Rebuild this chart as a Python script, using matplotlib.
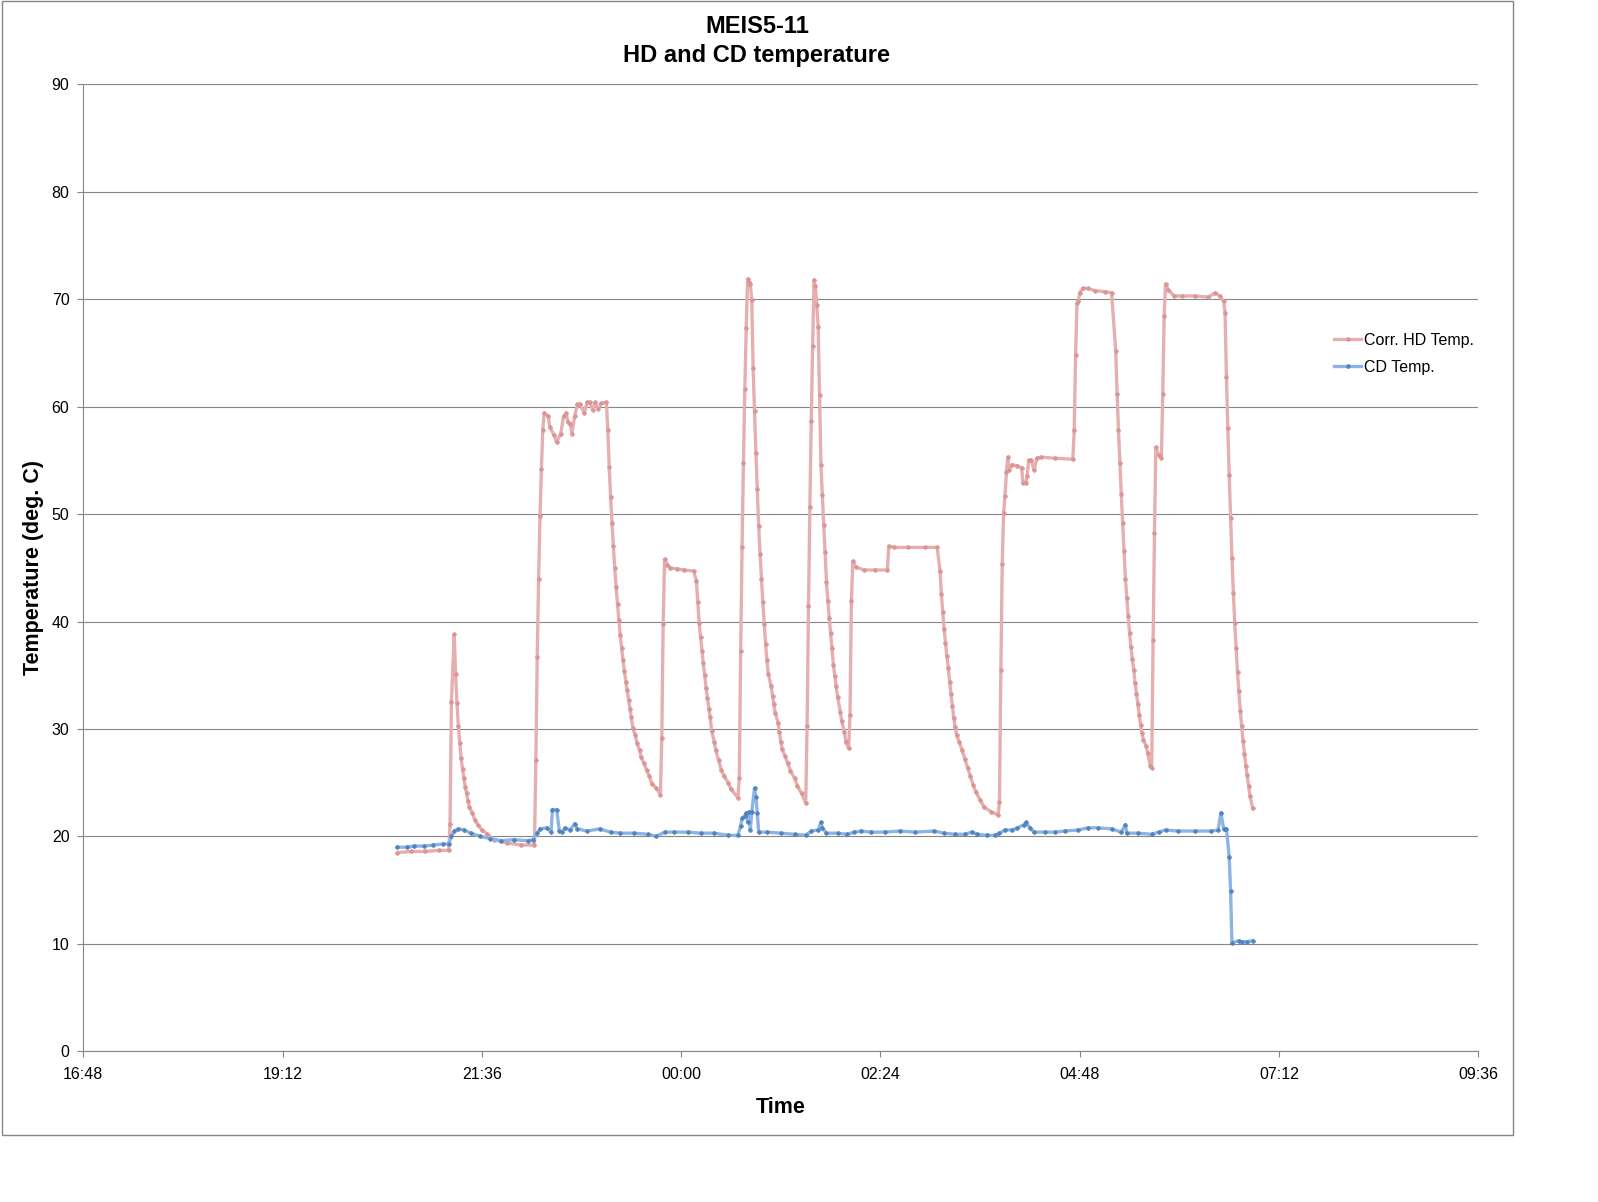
import matplotlib
matplotlib.use('Agg')
import matplotlib.pyplot as plt
from matplotlib.patches import Rectangle

# Corr. HD Temp. (clock time, deg C)
hd_times = ['20:35', '20:45', '20:55', '21:05', '21:12', '21:13', '21:14', '21:16', '21:17', '21:18',
            '21:19', '21:20', '21:21', '21:22', '21:23', '21:24', '21:25', '21:26', '21:27', '21:29',
            '21:31', '21:33', '21:36', '21:40', '21:45', '21:54', '22:04', '22:14', '22:15', '22:16',
            '22:17', '22:18', '22:19', '22:20', '22:21', '22:24', '22:25', '22:28', '22:30', '22:33',
            '22:35', '22:37', '22:38', '22:40', '22:41', '22:43', '22:45', '22:47', '22:50', '22:52',
            '22:54', '22:56', '22:58', '23:00', '23:02', '23:06', '23:07', '23:08', '23:09', '23:10',
            '23:11', '23:12', '23:13', '23:14', '23:15', '23:16', '23:17', '23:18', '23:19', '23:20',
            '23:21', '23:22', '23:23', '23:24', '23:25', '23:27', '23:28', '23:30', '23:31', '23:33',
            '23:35', '23:37', '23:39', '23:42', '23:45', '23:46', '23:47', '23:48', '23:50', '23:52',
            '23:57', '00:02', '00:09', '00:11', '00:12', '00:13', '00:14', '00:15', '00:16', '00:17',
            '00:18', '00:19', '00:20', '00:21', '00:22', '00:24', '00:25', '00:27', '00:29', '00:31',
            '00:34', '00:36', '00:41', '00:42', '00:43', '00:44', '00:45', '00:46', '00:47', '00:48',
            '00:49', '00:50', '00:51', '00:52', '00:53', '00:54', '00:55', '00:56', '00:57', '00:58',
            '00:59', '01:00', '01:01', '01:02', '01:03', '01:05', '01:06', '01:07', '01:08', '01:10',
            '01:11', '01:12', '01:13', '01:15', '01:17', '01:19', '01:22', '01:24', '01:27', '01:30',
            '01:31', '01:32', '01:33', '01:34', '01:35', '01:36', '01:37', '01:38', '01:39', '01:40',
            '01:41', '01:42', '01:43', '01:44', '01:45', '01:46', '01:47', '01:48', '01:49', '01:50',
            '01:51', '01:52', '01:53', '01:55', '01:56', '01:58', '01:59', '02:01', '02:02', '02:03',
            '02:04', '02:06', '02:12', '02:20', '02:29', '02:30', '02:34', '02:44', '02:56', '03:05',
            '03:07', '03:08', '03:09', '03:10', '03:11', '03:12', '03:13', '03:14', '03:15', '03:16',
            '03:17', '03:18', '03:19', '03:21', '03:23', '03:25', '03:27', '03:29', '03:31', '03:33',
            '03:36', '03:39', '03:44', '03:49', '03:50', '03:51', '03:52', '03:53', '03:54', '03:55',
            '03:56', '03:57', '03:59', '04:03', '04:06', '04:07', '04:09', '04:10', '04:11', '04:13',
            '04:15', '04:17', '04:20', '04:30', '04:43', '04:44', '04:45', '04:46', '04:47', '04:48',
            '04:50', '04:54', '04:59', '05:06', '05:11', '05:14', '05:15', '05:16', '05:17', '05:18',
            '05:19', '05:20', '05:21', '05:22', '05:23', '05:24', '05:25', '05:26', '05:27', '05:28',
            '05:29', '05:30', '05:31', '05:32', '05:33', '05:34', '05:36', '05:37', '05:39', '05:40',
            '05:41', '05:42', '05:43', '05:45', '05:47', '05:48', '05:49', '05:50', '05:52', '05:56',
            '06:02', '06:11', '06:21', '06:26', '06:29', '06:32', '06:33', '06:34', '06:35', '06:36',
            '06:37', '06:38', '06:39', '06:40', '06:41', '06:42', '06:43', '06:44', '06:45', '06:46',
            '06:47', '06:48', '06:49', '06:50', '06:51', '06:53']
hd_values = [18.5, 18.6, 18.6, 18.7, 18.7, 21.2, 32.5, 38.8, 35.1, 32.4,
             30.3, 28.7, 27.3, 26.3, 25.4, 24.6, 24.0, 23.3, 22.7, 22.2,
             21.5, 21.1, 20.6, 20.2, 19.7, 19.4, 19.2, 19.2, 27.1, 36.7,
             44.0, 49.8, 54.2, 57.8, 59.4, 59.1, 58.1, 57.4, 56.7, 57.5,
             59.1, 59.4, 58.6, 58.4, 57.5, 59.1, 60.2, 60.2, 59.4, 60.4,
             60.4, 59.7, 60.4, 59.8, 60.3, 60.4, 57.8, 54.4, 51.6, 49.2,
             47.0, 45.0, 43.2, 41.6, 40.1, 38.7, 37.5, 36.4, 35.4, 34.4,
             33.6, 32.7, 31.9, 31.1, 30.1, 29.4, 28.7, 28.0, 27.4, 26.8,
             26.2, 25.6, 24.9, 24.5, 23.9, 29.2, 39.8, 45.8, 45.3, 45.0,
             44.9, 44.8, 44.7, 43.8, 41.8, 39.9, 38.6, 37.3, 36.1, 35.0,
             33.8, 32.9, 31.9, 31.1, 29.8, 28.8, 28.0, 27.1, 26.2, 25.6,
             25.0, 24.4, 23.6, 25.4, 37.3, 46.9, 54.8, 61.6, 67.3, 71.9,
             71.6, 71.4, 69.9, 63.6, 59.6, 55.7, 52.3, 48.9, 46.3, 44.0,
             41.8, 39.8, 37.9, 36.4, 35.1, 34.0, 33.1, 32.3, 31.5, 30.6,
             29.7, 28.8, 28.1, 27.5, 26.8, 26.1, 25.4, 24.7, 24.0, 23.1,
             30.3, 41.4, 50.7, 58.7, 65.6, 71.8, 71.2, 69.5, 67.4, 61.1,
             54.6, 51.8, 49.0, 46.5, 43.7, 41.9, 40.3, 38.9, 37.5, 36.0,
             34.9, 34.0, 33.0, 31.6, 30.7, 29.7, 28.8, 28.2, 31.3, 41.9,
             45.6, 45.1, 44.8, 44.8, 44.8, 47.0, 46.9, 46.9, 46.9, 46.9,
             44.7, 42.6, 40.9, 39.3, 38.0, 36.8, 35.7, 34.4, 33.3, 32.1,
             31.0, 30.2, 29.4, 28.8, 28.0, 27.2, 26.4, 25.6, 24.8, 24.1,
             23.4, 22.7, 22.3, 22.0, 23.2, 35.5, 45.4, 50.1, 51.7, 53.9,
             55.3, 54.1, 54.6, 54.5, 54.3, 52.9, 52.9, 53.5, 55.0, 55.0,
             54.1, 55.2, 55.3, 55.2, 55.1, 57.8, 64.8, 69.6, 69.8, 70.6,
             71.0, 71.0, 70.8, 70.7, 70.6, 65.2, 61.2, 57.8, 54.8, 51.9,
             49.2, 46.6, 44.0, 42.2, 40.5, 38.9, 37.6, 36.5, 35.5, 34.3,
             33.3, 32.3, 31.3, 30.4, 29.6, 29.0, 28.4, 27.8, 26.6, 26.4,
             38.3, 48.2, 56.2, 55.5, 55.2, 61.2, 68.4, 71.4, 70.9, 70.3,
             70.3, 70.3, 70.2, 70.6, 70.3, 69.8, 68.7, 62.8, 58.0, 53.6,
             49.6, 45.9, 42.7, 39.9, 37.5, 35.3, 33.5, 31.7, 30.3, 28.9,
             27.7, 26.6, 25.7, 24.7, 23.8, 22.6]

# CD Temp.
cd_times = ['20:35', '20:42', '20:47', '20:54', '21:01', '21:08', '21:12', '21:14', '21:16', '21:19',
            '21:23', '21:28', '21:35', '21:42', '21:50', '21:59', '22:09', '22:13', '22:16', '22:18',
            '22:23', '22:26', '22:27', '22:30', '22:32', '22:34', '22:36', '22:40', '22:43', '22:45',
            '22:52', '23:01', '23:09', '23:16', '23:26', '23:36', '23:42', '23:48', '23:55', '00:05',
            '00:14', '00:24', '00:34', '00:41', '00:43', '00:44', '00:46', '00:47', '00:48', '00:49',
            '00:50', '00:51', '00:53', '00:54', '00:55', '00:56', '01:02', '01:12', '01:22', '01:30',
            '01:34', '01:39', '01:41', '01:42', '01:45', '01:53', '02:00', '02:05', '02:10', '02:17',
            '02:27', '02:38', '02:49', '03:03', '03:10', '03:18', '03:25', '03:30', '03:34', '03:41',
            '03:47', '03:50', '03:54', '03:59', '04:03', '04:08', '04:09', '04:12', '04:15', '04:23',
            '04:30', '04:37', '04:47', '04:54', '05:01', '05:11', '05:18', '05:21', '05:22', '05:30',
            '05:40', '05:45', '05:50', '05:59', '06:11', '06:23', '06:28', '06:30', '06:32', '06:34',
            '06:36', '06:37', '06:38', '06:43', '06:45', '06:49', '06:53']
cd_values = [19.0, 19.0, 19.1, 19.1, 19.2, 19.3, 19.3, 20.0, 20.5, 20.7,
             20.6, 20.3, 20.0, 19.8, 19.6, 19.7, 19.6, 19.7, 20.3, 20.7,
             20.8, 20.4, 22.5, 22.5, 20.5, 20.4, 20.8, 20.6, 21.2, 20.7,
             20.5, 20.7, 20.4, 20.3, 20.3, 20.2, 20.0, 20.4, 20.4, 20.4,
             20.3, 20.3, 20.1, 20.1, 21.0, 21.7, 21.9, 22.2, 21.3, 22.3,
             20.6, 22.3, 24.5, 23.7, 22.2, 20.4, 20.4, 20.3, 20.2, 20.1,
             20.5, 20.6, 21.3, 20.8, 20.3, 20.3, 20.2, 20.4, 20.5, 20.4,
             20.4, 20.5, 20.4, 20.5, 20.3, 20.2, 20.2, 20.4, 20.2, 20.1,
             20.1, 20.3, 20.6, 20.6, 20.8, 21.1, 21.3, 20.8, 20.4, 20.4,
             20.4, 20.5, 20.6, 20.8, 20.8, 20.7, 20.4, 21.1, 20.3, 20.3,
             20.2, 20.4, 20.6, 20.5, 20.5, 20.5, 20.6, 22.2, 20.7, 20.7,
             18.1, 14.9, 10.1, 10.3, 10.2, 10.2, 10.3]

tick_labels = ['16:48', '19:12', '21:36', '00:00', '02:24', '04:48', '07:12', '09:36']


def to_hours(s):
    # morning times belong to the next day
    h, m = s.split(':')
    h = int(h)
    if h < 12:
        h += 24
    return h + int(m) / 60.0


hd_x = [to_hours(t) for t in hd_times]
cd_x = [to_hours(t) for t in cd_times]
tick_pos = [to_hours(t) for t in tick_labels]

plt.rcParams['font.family'] = ['Liberation Sans', 'DejaVu Sans']
grey = '#868686'

fig = plt.figure(figsize=(15.98, 12.02), dpi=100)
ax = fig.add_axes([0.05213, 0.12537, 0.87297, 0.80449])

ax.plot(hd_x, hd_values, '-', color='#E6AFAF', lw=2.4, marker='P', ms=3,
        mfc='#DA9494', mec='#DA9494', mew=0.4, label='Corr. HD Temp.')
ax.plot(cd_x, cd_values, '-', color='#8DB4E2', lw=2.4, marker='P', ms=3,
        mfc='#4F81BD', mec='#4F81BD', mew=0.4, label='CD Temp.')

ax.set_xlim(tick_pos[0], tick_pos[-1])
ax.set_ylim(0, 90)
ax.set_xticks(tick_pos)
ax.set_xticklabels(tick_labels)
ax.set_yticks(range(0, 91, 10))
ax.yaxis.grid(True, color=grey, lw=0.8)
ax.set_axisbelow(True)
for s in ['top', 'right']:
    ax.spines[s].set_visible(False)
for s in ['left', 'bottom']:
    ax.spines[s].set_color(grey)
    ax.spines[s].set_linewidth(0.8)
ax.tick_params(axis='both', colors=grey, labelcolor='black', labelsize=11.5,
               direction='out', length=4, width=0.8)
ax.tick_params(axis='y', pad=6)
ax.tick_params(axis='x', pad=7)

fig.text(0.4737, 0.97754, 'MEIS5-11', ha='center', va='center', fontsize=17, fontweight='bold')
fig.text(0.4737, 0.95383, 'HD and CD temperature', ha='center', va='center', fontsize=17, fontweight='bold')
fig.text(0.4887, 0.0790, 'Time', ha='center', va='center', fontsize=15.5, fontweight='bold')
fig.text(0.0207, 0.5275, 'Temperature (deg. C)', ha='center', va='center', rotation=90,
         fontsize=15.5, fontweight='bold')

leg = ax.legend(loc='upper left', bbox_to_anchor=(1334 / 1598, 1 - 333 / 1202),
                bbox_transform=fig.transFigure, frameon=False, fontsize=11.5,
                borderpad=0, borderaxespad=0, handlelength=1.7, handletextpad=0.2,
                labelspacing=0.75, markerscale=1.0)

fig.patches.append(Rectangle((0.00094, 0.05574), 0.9459, 0.9434, transform=fig.transFigure,
                             fill=False, edgecolor=grey, lw=1.0))

fig.savefig('out.png', dpi=100)
